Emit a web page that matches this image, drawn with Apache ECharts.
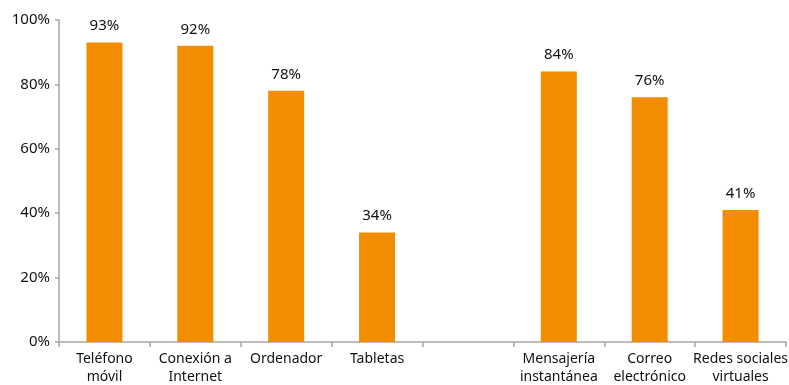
<!DOCTYPE html>
<html>
<head>
<meta charset="utf-8">
<script src="https://cdn.jsdelivr.net/npm/echarts@6/dist/echarts.min.js"></script>
<style>
  html, body { margin: 0; padding: 0; background: #fff; }
  #chart { width: 789px; height: 385px; }
</style>
</head>
<body>
<div id="chart"></div>
<script>
// Device and service usage shares (percent); the blank slot separates the two groups
const categories = ['Teléfono\nmóvil', 'Conexión a\nInternet', 'Ordenador', 'Tabletas', '',
  'Mensajería\ninstantánea', 'Correo\nelectrónico', 'Redes sociales\nvirtuales'];
const values = [93, 92, 78, 34, null, 84, 76, 41];
const yTicks = [0, 20, 40, 60, 80, 100];

const font = 'Noto Sans, sans-serif';
const chart = echarts.init(document.getElementById('chart'));
chart.setOption({
  animation: false,
  grid: { left: 59, right: 3, top: 20, bottom: 43, containLabel: false, outerBoundsMode: 'none' },
  xAxis: {
    type: 'category',
    data: categories,
    axisLine: { lineStyle: { color: '#a6a6a6', width: 1.5 } },
    axisTick: { show: true, length: 5, lineStyle: { color: '#a6a6a6', width: 1.5 } },
    axisLabel: { color: '#111', fontFamily: font, fontSize: 14, lineHeight: 18, margin: 8, interval: 0 }
  },
  yAxis: {
    type: 'value',
    min: yTicks[0],
    max: yTicks[yTicks.length - 1],
    interval: 20,
    splitLine: { show: false },
    axisLine: { show: true, lineStyle: { color: '#a6a6a6', width: 1.5 } },
    axisTick: { show: true, length: 4, lineStyle: { color: '#a6a6a6', width: 1.5 } },
    axisLabel: { color: '#111', fontFamily: font, fontSize: 15, margin: 9, formatter: '{value}%' }
  },
  series: [{
    type: 'bar',
    data: values,
    barWidth: 36,
    itemStyle: { color: '#f28c00' },
    label: {
      show: true,
      position: 'top',
      distance: 9,
      color: '#111',
      fontFamily: font,
      fontSize: 15,
      formatter: p => p.value + '%'
    }
  }]
});
</script>
</body>
</html>
